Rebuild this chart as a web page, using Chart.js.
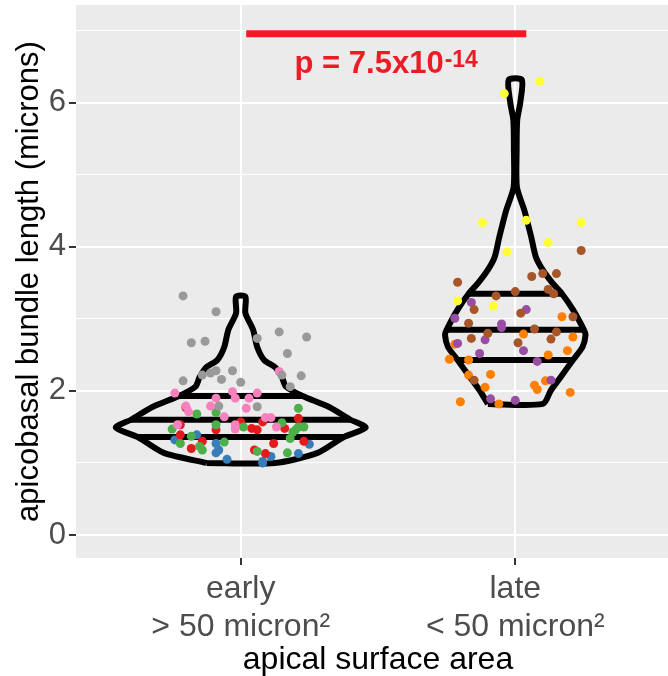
<!DOCTYPE html>
<html>
<head>
<meta charset="utf-8">
<script src="https://cdn.jsdelivr.net/npm/chart.js@4.4.1/dist/chart.umd.min.js"></script>
<style>
  html, body { margin: 0; padding: 0; background: #fff; overflow: hidden; }
  #wrap { width: 680px; height: 676px; }
</style>
</head>
<body>
<div id="wrap"><canvas id="chart" width="680" height="676"></canvas></div>
<script>
const FONT = "'Liberation Sans', Arial, sans-serif";

// categories (x positions 1 and 2)
const groups = [1, 2];
const xTickLabels = [['early', '> 50 micron²'], ['late', '< 50 micron²']];
const yMajor = [0, 2, 4, 6];
const yMinor = [1, 3, 5, 7];

// violin outlines: value and half width (in category units)
const earlyViolinY = [1.00, 1.14, 1.36, 1.49, 1.60, 1.78, 1.93, 2.06, 2.19, 2.33, 2.43, 2.61, 2.85, 3.08, 3.31];
const earlyViolinW = [0.125, 0.28, 0.375, 0.455, 0.40, 0.32, 0.225, 0.165, 0.15, 0.125, 0.085, 0.06, 0.045, 0.017, 0.017];
const lateViolinY = [1.82, 2.01, 2.19, 2.43, 2.61, 2.78, 2.85, 3.13, 3.35, 3.50, 3.68, 3.86, 4.14, 4.51, 4.83, 5.35, 5.76, 6.00, 6.32];
const lateViolinW = [0.10, 0.13, 0.165, 0.21, 0.245, 0.256, 0.25, 0.21, 0.17, 0.135, 0.10, 0.075, 0.058, 0.033, 0.006, 0.005, 0.007, 0.018, 0.024];

// quantile lines (25%, 50%, 75%)
const earlyQuantY = [1.36, 1.60, 1.93];
const earlyQuantW = [0.375, 0.40, 0.225];
const lateQuantY = [2.43, 2.85, 3.35];
const lateQuantW = [0.21, 0.25, 0.17];

// jittered points: offset from category and value
const grayDx = [-0.21, -0.09, -0.18, -0.13, -0.21, -0.14, -0.11, -0.09, -0.03, -0.07, -0.08, 0.14, 0.24, 0.06, 0.17, 0.00, 0.15, 0.22, 0.18, 0.06];
const grayY  = [3.32, 3.10, 2.67, 2.69, 2.14, 2.22, 2.25, 2.28, 2.28, 2.16, 1.79, 2.82, 2.75, 2.73, 2.52, 2.12, 2.22, 2.21, 2.06, 1.78];
const pinkDx = [-0.24, -0.20, -0.19, -0.11, -0.09, -0.03, -0.02, -0.06, -0.23, -0.02, -0.02, 0.14, 0.03, 0.06, 0.02, 0.09, 0.11, 0.13];
const pinkY  = [1.97, 1.79, 1.71, 1.79, 1.90, 1.99, 1.90, 1.64, 1.53, 1.53, 1.47, 2.27, 1.90, 1.97, 1.76, 1.63, 1.63, 1.50];
const greenDx = [-0.16, -0.09, -0.09, -0.25, -0.18, -0.22, -0.15, -0.14, -0.06, 0.21, 0.15, 0.21, 0.23, 0.19, 0.18, 0.01, 0.06, 0.17, 0.20];
const greenY  = [1.68, 1.70, 1.53, 1.47, 1.37, 1.27, 1.23, 1.18, 1.29, 1.76, 1.56, 1.50, 1.50, 1.43, 1.34, 1.50, 1.16, 1.14, 1.46];
const redDx = [-0.20, -0.22, -0.09, -0.22, -0.14, -0.18, 0.00, 0.04, 0.06, 0.08, 0.21, 0.16, 0.12, 0.23, 0.05, 0.09];
const redY  = [1.77, 1.53, 1.46, 1.39, 1.30, 1.20, 1.57, 1.48, 1.46, 1.57, 1.62, 1.48, 1.27, 1.30, 1.18, 1.13];
const blueDx = [-0.24, -0.16, -0.09, -0.08, -0.09, -0.05, 0.25, 0.21, 0.11, 0.08, 0.08];
const blueY  = [1.32, 1.39, 1.27, 1.18, 1.14, 1.05, 1.26, 1.13, 1.09, 1.02, 1.00];

const yellowDx = [0.09, -0.04, -0.12, 0.04, 0.24, 0.12, -0.03, -0.21, -0.08];
const yellowY  = [6.30, 6.13, 4.34, 4.37, 4.34, 4.06, 3.93, 3.25, 3.18];
const brownDx = [0.24, -0.21, 0.06, 0.10, 0.15, 0.12, 0.14, -0.07, 0.00, -0.15, 0.02, 0.21, -0.17, 0.07, 0.15, -0.10, -0.16, 0.13, 0.01, -0.15];
const brownY  = [3.95, 3.51, 3.59, 3.63, 3.63, 3.41, 3.35, 3.32, 3.38, 3.13, 3.08, 3.03, 2.94, 2.86, 2.82, 2.80, 2.73, 2.72, 2.67, 2.15];
const purpleDx = [-0.16, 0.04, -0.22, -0.05, -0.05, -0.11, -0.21, 0.03, -0.13, 0.08, 0.13, -0.09, 0.00];
const purpleY  = [3.23, 3.13, 3.01, 2.93, 2.88, 2.71, 2.66, 2.56, 2.52, 2.41, 2.15, 1.89, 1.87];
const orangeDx = [0.17, 0.03, 0.21, -0.22, 0.19, -0.24, -0.17, 0.12, -0.09, -0.17, -0.11, 0.07, 0.08, 0.11, 0.20, -0.20, -0.06];
const orangeY  = [3.03, 2.79, 2.75, 2.65, 2.56, 2.44, 2.43, 2.50, 2.23, 2.22, 2.05, 2.08, 2.02, 2.14, 1.98, 1.85, 1.82];

// significance bar
const sigX = [1.02, 2.04];
const sigY = 6.96;
const pText = 'p = 7.5x10';
const pExp = '-14';
const pTextY = 6.42;

const RED = '#ED1C24';

function outline(c, ys, ws) {
  const left = ys.map((y, i) => ({ x: c - ws[i], y }));
  const right = ys.map((y, i) => ({ x: c + ws[i], y })).reverse();
  return left.concat(right, [left[0]]);
}
function jitter(c, dx, ys) {
  return ys.map((y, i) => ({ x: c + dx[i], y }));
}
function lineSet(data, color, width, tension) {
  return { data, showLine: true, borderColor: color, borderWidth: width, pointRadius: 0,
    tension: tension || 0, borderJoinStyle: 'round', borderCapStyle: 'butt', fill: false, order: 2 };
}
function pointSet(data, color) {
  return { data, showLine: false, pointRadius: 4.5, pointHoverRadius: 4.5,
    backgroundColor: color, borderWidth: 0, order: 0 };
}

const datasets = [
  pointSet(jitter(groups[0], grayDx, grayY), '#999999'),
  pointSet(jitter(groups[0], pinkDx, pinkY), '#F781BF'),
  pointSet(jitter(groups[0], greenDx, greenY), '#4DAF4A'),
  pointSet(jitter(groups[0], redDx, redY), '#E41A1C'),
  pointSet(jitter(groups[0], blueDx, blueY), '#377EB8'),
  pointSet(jitter(groups[1], yellowDx, yellowY), '#FFFF33'),
  pointSet(jitter(groups[1], brownDx, brownY), '#A65628'),
  pointSet(jitter(groups[1], purpleDx, purpleY), '#984EA3'),
  pointSet(jitter(groups[1], orangeDx, orangeY), '#FF7F00'),
  lineSet(outline(groups[0], earlyViolinY, earlyViolinW), '#000', 6, 0.25),
  lineSet(outline(groups[1], lateViolinY, lateViolinW), '#000', 6, 0.25),
  lineSet(sigX.map(x => ({ x, y: sigY })), RED, 7)
];
earlyQuantY.forEach((q, i) => datasets.push(lineSet(
  [{ x: groups[0] - earlyQuantW[i], y: q }, { x: groups[0] + earlyQuantW[i], y: q }], '#000', 6)));
lateQuantY.forEach((q, i) => datasets.push(lineSet(
  [{ x: groups[1] - lateQuantW[i], y: q }, { x: groups[1] + lateQuantW[i], y: q }], '#000', 6)));

const panelBg = {
  id: 'panelBg',
  beforeDraw(chart) {
    const { ctx, chartArea: a } = chart;
    ctx.save();
    ctx.fillStyle = '#EBEBEB';
    ctx.fillRect(a.left, a.top, a.right - a.left, a.bottom - a.top);
    ctx.restore();
  }
};

const pLabel = {
  id: 'pLabel',
  afterDatasetsDraw(chart) {
    const { ctx, scales } = chart;
    const cx = scales.x.getPixelForValue((sigX[0] + sigX[1]) / 2);
    const by = scales.y.getPixelForValue(pTextY);
    ctx.save();
    ctx.fillStyle = RED;
    ctx.textBaseline = 'alphabetic';
    ctx.textAlign = 'left';
    ctx.font = 'bold 31px ' + FONT;
    const w1 = ctx.measureText(pText).width;
    ctx.font = 'bold 23px ' + FONT;
    const w2 = ctx.measureText(pExp).width;
    const x0 = cx - (w1 + w2 + 1) / 2;
    ctx.font = 'bold 31px ' + FONT;
    ctx.fillText(pText, x0, by);
    ctx.font = 'bold 23px ' + FONT;
    ctx.fillText(pExp, x0 + w1 + 1, by - 6);
    ctx.restore();
  }
};

new Chart(document.getElementById('chart'), {
  type: 'scatter',
  data: { datasets },
  plugins: [panelBg, pLabel],
  options: {
    responsive: false,
    animation: false,
    devicePixelRatio: 1,
    events: [],
    layout: { autoPadding: false, padding: { top: 5, left: 0, right: 0, bottom: 0 } },
    plugins: { legend: { display: false }, tooltip: { enabled: false } },
    scales: {
      x: {
        type: 'linear', min: 0.4, max: 2.6,
        afterBuildTicks: s => { s.ticks = groups.map(v => ({ value: v })); },
        afterFit: s => { s.height = 118; s.paddingLeft = 0; s.paddingRight = 0; },
        border: { display: false },
        grid: { color: '#FFFFFF', lineWidth: 2, tickColor: '#333333', tickLength: 7, tickWidth: 2 },
        ticks: {
          callback: (v, i) => xTickLabels[i],
          color: '#4D4D4D', padding: 5, maxRotation: 0, autoSkip: false,
          font: { family: FONT, size: 32, lineHeight: 1.19 }
        },
        title: { display: true, text: 'apical surface area', color: '#000000',
          font: { family: FONT, size: 32, lineHeight: 1 }, padding: 0 }
      },
      y: {
        type: 'linear', min: -0.32, max: 7.36,
        afterBuildTicks: s => { s.ticks = yMajor.concat(yMinor).sort((a, b) => a - b).map(v => ({ value: v })); },
        afterFit: s => { s.width = 76; s.paddingTop = 0; s.paddingBottom = 0; },
        border: { display: false },
        grid: {
          color: '#FFFFFF',
          lineWidth: c => yMajor.includes(c.tick.value) ? 2 : 1,
          tickColor: c => yMajor.includes(c.tick.value) ? '#333333' : 'rgba(0,0,0,0)',
          tickLength: 7, tickWidth: 2
        },
        ticks: {
          callback: v => yMajor.includes(v) ? String(v) : '',
          color: '#4D4D4D', padding: 3,
          font: { family: FONT, size: 31 }
        },
        title: { display: true, text: 'apicobasal bundle length (microns)', color: '#000000',
          font: { family: FONT, size: 31, lineHeight: 1.2 }, padding: { top: 11, bottom: 0 } }
      }
    }
  }
});
</script>
</body>
</html>
